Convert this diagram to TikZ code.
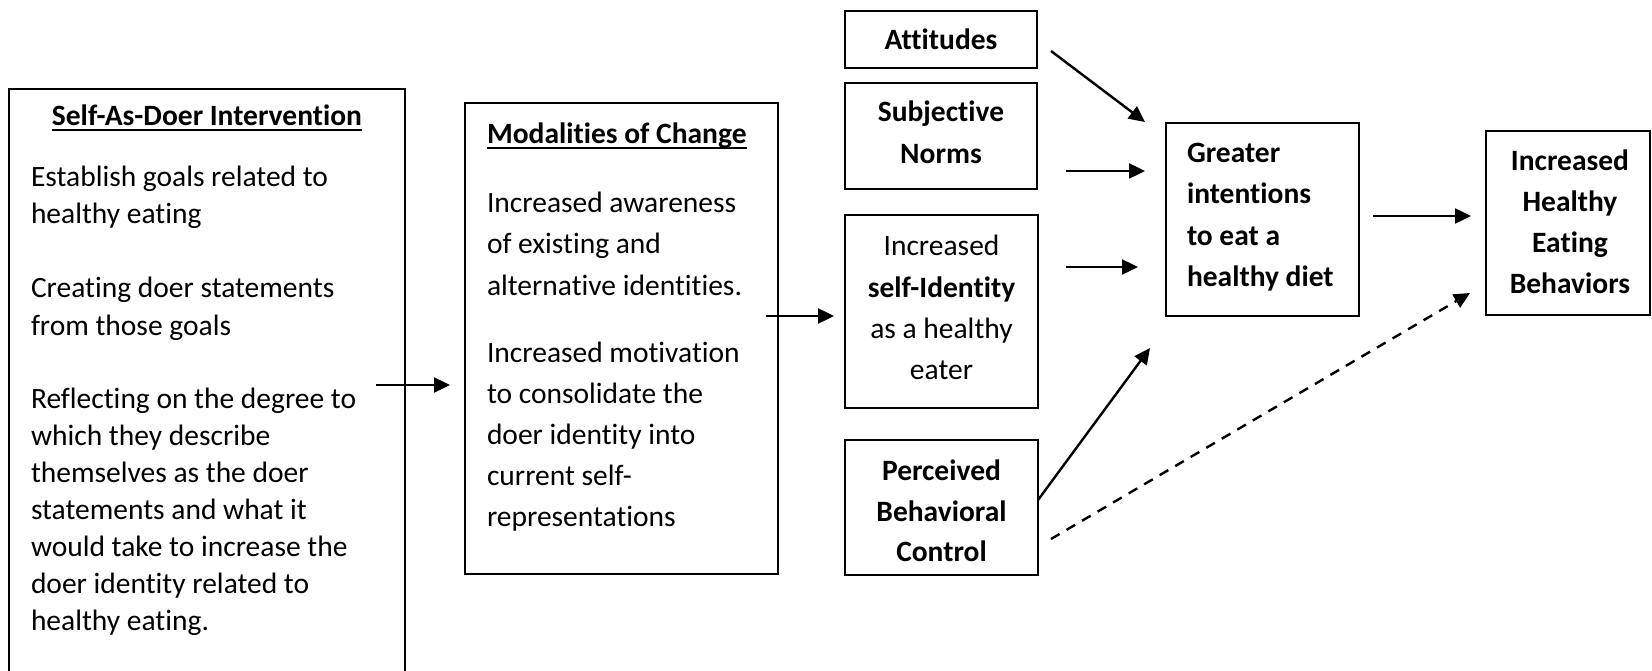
\documentclass[tikz,border=0pt]{standalone}
\usepackage{fontspec}
\setmainfont{Carlito}[Ligatures={NoCommon}]
\usetikzlibrary{arrows.meta}
\newcommand{\myul}[1]{\setbox0=\hbox{#1}\leavevmode\rlap{\rule[-5pt]{\wd0}{2pt}}\box0}
\begin{document}
\begin{tikzpicture}[x=1pt,y=-1pt,
  box/.style={draw,line width=2.2pt,inner sep=0pt,outer sep=0pt},
  txt/.style={inner sep=0pt,outer sep=0pt,font=\fontsize{29.5pt}{36pt}\selectfont},
  tl/.style={txt,anchor=base west},
  tc/.style={txt,anchor=base},
  tbc/.style={txt,anchor=base,font=\fontsize{29.5pt}{36pt}\selectfont\bfseries},
  tbl/.style={txt,anchor=base west,font=\fontsize{29.5pt}{36pt}\selectfont\bfseries},
  arr/.style={line width=2.4pt,-{Triangle[length=16pt,width=15pt]}},
  darr/.style={arr,dash pattern=on 10pt off 8pt}
]
\useasboundingbox (0,0) rectangle (1652,671);
% left box (open at the bottom)
\draw[line width=2.2pt] (9,675) |- (405,89) -- (405,675);
\node[tbc] (t1) at (207,126) {\myul{Self-As-Doer Intervention}};
\node[tl] (l1) at (31,187) {Establish goals related to};
\node[tl] (l2) at (31,224) {healthy eating};
\node[tl] (l3) at (31,298) {Creating doer statements};
\node[tl] (l4) at (31,335) {from those goals};
\node[tl] (l5) at (31,408) {Reflecting on the degree to};
\node[tl] (l6) at (31,445) {which they describe};
\node[tl] (l7) at (31,482) {themselves as the doer};
\node[tl] (l8) at (31,519) {statements and what it};
\node[tl] (l9) at (31,556) {would take to increase the};
\node[tl] (l10) at (31,593) {doer identity related to};
\node[tl] (l11) at (31,630) {healthy eating.};
% modalities box
\node[box,minimum width=313pt,minimum height=471pt] (mod) at (621.5,338.5) {};
\node[tbl] (t2) at (487,144) {\myul{Modalities of Change}};
\node[tl] (m1) at (487,213) {Increased awareness};
\node[tl] (m2) at (487,254) {of existing and};
\node[tl] (m3) at (487,295) {alternative identities.};
\node[tl] (m4) at (487,362) {Increased motivation};
\node[tl] (m5) at (487,403) {to consolidate the};
\node[tl] (m6) at (487,444) {doer identity into};
\node[tl] (m7) at (487,485) {current self-};
\node[tl] (m8) at (487,526) {representations};
% right column
\node[box,minimum width=192pt,minimum height=57pt] (att) at (941,39.5) {};
\node[tbc] (att1) at (941,50) {Attitudes};
\node[box,minimum width=192pt,minimum height=106pt] (sn) at (941,136) {};
\node[tbc] (sn1) at (941,122) {Subjective};
\node[tbc] (sn2) at (941,164) {Norms};
\node[box,minimum width=193pt,minimum height=193pt] (si) at (941.5,311.5) {};
\node[tc] (si1) at (941.5,255) {Increased};
\node[tbc] (si2) at (941.5,297) {self-Identity};
\node[tc] (si3) at (941.5,338) {as a healthy};
\node[tc] (si4) at (941.5,379) {eater};
\node[box,minimum width=193pt,minimum height=135pt] (pbc) at (941.5,507.5) {};
\node[tbc] (pbc1) at (941.5,480) {Perceived};
\node[tbc] (pbc2) at (941.5,521) {Behavioral};
\node[tbc] (pbc3) at (941.5,561) {Control};
% intentions
\node[box,minimum width=193pt,minimum height=193pt] (gi) at (1262.5,219.5) {};
\node[tbl] (gi1) at (1187,163) {Greater};
\node[tbl] (gi2) at (1187,204) {intentions};
\node[tbl] (gi3) at (1187,245) {to eat a};
\node[tbl] (gi4) at (1187,286) {healthy diet};
% behaviours
\node[box,minimum width=164pt,minimum height=184pt] (hb) at (1568,223) {};
\node[tbc] (hb1) at (1570,171) {Increased};
\node[tbc] (hb2) at (1570,212) {Healthy};
\node[tbc] (hb3) at (1570,252) {Eating};
\node[tbc] (hb4) at (1570,293) {Behaviors};
% connector end points
\coordinate (a1s) at (376,385); \coordinate (a1e) at (450,385);
\coordinate (a2s) at (766,316); \coordinate (a2e) at (834,316);
\coordinate (a3s) at (1051,51); \coordinate (a3e) at (1145,122);
\coordinate (a4s) at (1066,171); \coordinate (a4e) at (1145,171);
\coordinate (a5s) at (1066,267); \coordinate (a5e) at (1138,267);
\coordinate (a6s) at (1038,500); \coordinate (a6e) at (1150,348);
\coordinate (a7s) at (1051,539); \coordinate (a7e) at (1470,293);
\coordinate (a8s) at (1373,216); \coordinate (a8e) at (1471,216);
\draw[arr] (a1s) -- (a1e);
\draw[arr] (a2s) -- (a2e);
\draw[arr] (a3s) -- (a3e);
\draw[arr] (a4s) -- (a4e);
\draw[arr] (a5s) -- (a5e);
\draw[arr] (a6s) -- (a6e);
\draw[darr] (a7s) -- (a7e);
\draw[arr] (a8s) -- (a8e);
\end{tikzpicture}
\end{document}
